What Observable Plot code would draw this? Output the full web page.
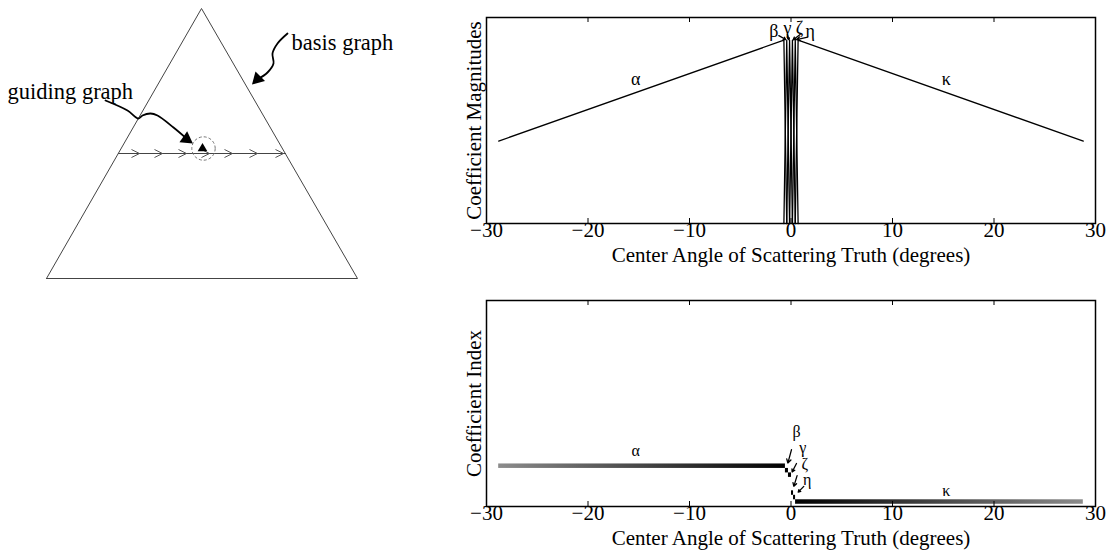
<!DOCTYPE html>
<html><head><meta charset="utf-8">
<script src="https://cdn.jsdelivr.net/npm/d3@7"></script>
<script src="https://cdn.jsdelivr.net/npm/@observablehq/plot@0.6"></script>
<style>
body{margin:0;background:#fff;}
#wrap{position:relative;width:1109px;height:556px;overflow:hidden;background:#fff;}
#wrap > svg{position:absolute;overflow:visible;}
</style></head><body><div id="wrap"></div>
<script>
const FONT = "'Liberation Serif','Times New Roman',serif";

// ---------------- left schematic (pixel-like units of the schematic) ----------------
const triangleX = [46, 201, 357, 46];
const triangleY = [278, 8, 278, 278];
const pathX = [118, 285];
const pathY = [153, 153];
const chevronX = [135, 158, 182, 205, 228, 253, 279];
const chevronY = [153, 153, 153, 153, 153, 153, 153];
const nodeX = [202], nodeY = [148];
const ringX = [203], ringY = [148];
const guideCurveX = [105, 127, 138, 142, 150, 157, 173, 186];
const guideCurveY = [100, 110, 118, 115, 113, 115, 127, 138];
const basisCurveX = [287, 277, 272, 273, 267, 257];
const basisCurveY = [33, 43, 53, 63, 72, 79];
const headX = [186, 257], headY = [138.5, 78.5], headAngle = [125, 225];
const schemLabels = ["guiding graph", "basis graph"];
const schemLabelX = [7, 291], schemLabelY = [91, 42];

// ---------------- right panels: data ----------------
const xTicks = [-30, -20, -10, 0, 10, 20, 30];
const innerTicks = [-20, -10, 0, 10, 20];
// coefficient magnitudes vs center angle (top panel)
const alphaAngle = [-28.8, -0.7, -0.42];
const alphaMag   = [0.40, 0.89, 0];
const betaAngle  = [-0.7, -0.42, -0.14];
const betaMag    = [0, 0.89, 0];
const gammaAngle = [-0.42, -0.14, 0.14];
const gammaMag   = [0, 0.89, 0];
const zetaAngle  = [-0.14, 0.14, 0.42];
const zetaMag    = [0, 0.89, 0];
const etaAngle   = [0.14, 0.42, 0.7];
const etaMag     = [0, 0.89, 0];
const kappaAngle = [0.42, 0.7, 28.8];
const kappaMag   = [0, 0.89, 0.40];
const topLabelText = ["α", "β", "γ", "ζ", "η", "κ"];
const topLabelX = [-15.3, -1.7, -0.34, 0.84, 1.9, 15.3];
const topLabelY = [0.70, 0.935, 0.95, 0.95, 0.935, 0.70];
const topArrowX1 = [-1.2, -0.36, 0.9, 1.65];
const topArrowY1 = [0.912, 0.918, 0.918, 0.905];
const topArrowX2 = [-0.52, -0.2, 0.22, 0.55];
const topArrowY2 = [0.893, 0.892, 0.892, 0.893];

// coefficient index vs center angle (bottom panel)
const coefNames = ["α", "β", "γ", "ζ", "η", "κ"];
const coefIndex = [9, 8, 7, 3, 2, 1];
const coefStart = [-28.8, -0.55, -0.25, 0.05, 0.25, 0.45];
const coefEnd   = [-0.55, -0.25, 0.05, 0.25, 0.45, 28.8];
const idxLabelX = [-15.3, 0.54, 1.15, 1.35, 1.6, 15.3];
const idxLabelY = [12.5, 16.6, 13.0, 9.5, 6.0, 3.4];
const idxArrowX1 = [0.05, 0.54, 0.6, 1.26];
const idxArrowY1 = [12.7, 9.6, 6.9, 4.5];
const idxArrowX2 = [-0.31, 0.11, 0.28, 0.71];
const idxArrowY2 = [9.7, 7.7, 4.5, 3.2];

const wrap = document.getElementById("wrap");
const place = (svg, left, top) => { svg.style.left = left + "px"; svg.style.top = top + "px"; wrap.appendChild(svg); return svg; };
const fmt = d => d < 0 ? "\u2212" + Math.abs(d) : String(d);

// ---------- schematic ----------
const zip = (xs, ys, extra = {}) => xs.map((x, i) => ({x, y: ys[i], ...Object.fromEntries(Object.entries(extra).map(([k, v]) => [k, v[i]]))}));
const chevron = {draw(ctx, size) { const r = Math.sqrt(size / Math.PI); ctx.moveTo(-r, -r); ctx.lineTo(r, 0); ctx.lineTo(-r, r); }};
const schem = Plot.plot({
  width: 440, height: 290, margin: 0,
  x: {domain: [0, 440], axis: null}, y: {domain: [0, 290], reverse: true, axis: null},
  style: {fontFamily: FONT, background: "transparent"},
  marks: [
    Plot.line(zip(triangleX, triangleY), {x: "x", y: "y", stroke: "#444", strokeWidth: 1}),
    Plot.line(zip(pathX, pathY), {x: "x", y: "y", stroke: "#444", strokeWidth: 1}),
    Plot.dot(zip(chevronX, chevronY), {x: "x", y: "y", symbol: chevron, r: 4, fill: "none", stroke: "#555", strokeWidth: 1}),
    Plot.dot(zip(ringX, ringY), {x: "x", y: "y", r: 11.7, fill: "none", stroke: "#777", strokeWidth: 1, strokeDasharray: "3,2"}),
    Plot.dot(zip(nodeX, nodeY), {x: "x", y: "y", symbol: "triangle", r: 3.6, fill: "black", stroke: "none"}),
    Plot.line(zip(guideCurveX, guideCurveY), {x: "x", y: "y", curve: "catmull-rom", stroke: "black", strokeWidth: 1.8}),
    Plot.line(zip(basisCurveX, basisCurveY), {x: "x", y: "y", curve: "catmull-rom", stroke: "black", strokeWidth: 1.8}),
    Plot.dot(zip(headX, headY, {a: headAngle}), {x: "x", y: "y", symbol: "triangle", r: 5, rotate: "a", fill: "black", stroke: "none"}),
    Plot.text(zip(schemLabelX, schemLabelY, {t: schemLabels}), {x: "x", y: "y", text: "t", textAnchor: "start", fontSize: 22.5, fill: "black"})
  ]
});
place(schem, 0, 0);

// ---------- common panel builder ----------
function panel({yDomain, marks, ylabel, height, marginBottom}) {
  return Plot.plot({
    width: 669, height, marginLeft: 46, marginRight: 14, marginTop: 17, marginBottom,
    x: {domain: [-30, 30], axis: null}, y: {domain: yDomain, axis: null},
    style: {fontFamily: FONT, fontSize: "21px", background: "transparent", color: "black"},
    marks: [
      ...marks,
      Plot.ruleX(innerTicks, {insetTop: 201, stroke: "black", strokeWidth: 1}),
      Plot.ruleX(innerTicks, {insetBottom: 201, stroke: "black", strokeWidth: 1}),
      Plot.frame({stroke: "black", strokeWidth: 1.5}),
      Plot.text(xTicks, {x: d => d, frameAnchor: "bottom", dy: 13, text: fmt, fontSize: 21, fill: "black"}),
      Plot.text(["Center Angle of Scattering Truth (degrees)"], {frameAnchor: "bottom", dy: 38, text: d => d, fontSize: 21, fill: "black"}),
      Plot.text([ylabel], {frameAnchor: "left", textAnchor: "middle", dx: -12, rotate: -90, text: d => d, fontSize: 21, fill: "black"})
    ]
  });
}

// ---------- top panel ----------
const magRows = [];
[["α", alphaAngle, alphaMag], ["β", betaAngle, betaMag], ["γ", gammaAngle, gammaMag],
 ["ζ", zetaAngle, zetaMag], ["η", etaAngle, etaMag], ["κ", kappaAngle, kappaMag]]
  .forEach(([c, xs, ys]) => xs.forEach((x, i) => magRows.push({coef: c, angle: x, mag: ys[i]})));

const topPanel = panel({
  yDomain: [0, 1], ylabel: "Coefficient Magnitudes", height: 283, marginBottom: 60,
  marks: [
    Plot.line(magRows, {x: "angle", y: "mag", z: "coef", stroke: "black", strokeWidth: 1.3}),
    Plot.text(topLabelText, {x: (d, i) => topLabelX[i], y: (d, i) => topLabelY[i], text: d => d, fontSize: 18, fill: "black"}),
    Plot.arrow(topArrowX1, {x1: (d, i) => topArrowX1[i], y1: (d, i) => topArrowY1[i], x2: (d, i) => topArrowX2[i], y2: (d, i) => topArrowY2[i], stroke: "black", strokeWidth: 1.3, headLength: 5, headAngle: 60})
  ]
});
place(topPanel, 440, 0);

// ---------- bottom panel ----------
const barRows = coefNames.map((c, i) => ({coef: c, x1: coefStart[i], x2: coefEnd[i], y1: coefIndex[i] - 0.5, y2: coefIndex[i] + 0.5}));
const botPanel = panel({
  yDomain: [0, 46], ylabel: "Coefficient Index", height: 273, marginBottom: 50,
  marks: [
    Plot.rect(barRows.filter(d => d.coef === "α"), {x1: "x1", x2: "x2", y1: "y1", y2: "y2", fill: "url(#gradAlpha)"}),
    Plot.rect(barRows.filter(d => d.coef === "κ"), {x1: "x1", x2: "x2", y1: "y1", y2: "y2", fill: "url(#gradKappa)"}),
    Plot.rect(barRows.filter(d => d.coef !== "α" && d.coef !== "κ"), {x1: "x1", x2: "x2", y1: "y1", y2: "y2", fill: "black"}),
    Plot.text(coefNames, {x: (d, i) => idxLabelX[i], y: (d, i) => idxLabelY[i], text: d => d, fontSize: 16, fill: "black"}),
    Plot.arrow(idxArrowX1, {x1: (d, i) => idxArrowX1[i], y1: (d, i) => idxArrowY1[i], x2: (d, i) => idxArrowX2[i], y2: (d, i) => idxArrowY2[i], stroke: "black", strokeWidth: 1.3, headLength: 5, headAngle: 60})
  ]
});
const defs = d3.select(botPanel).insert("defs", ":first-child");
const gA = defs.append("linearGradient").attr("id", "gradAlpha");
gA.append("stop").attr("offset", "0").attr("stop-color", "#8c8c8c");
gA.append("stop").attr("offset", "1").attr("stop-color", "#000");
const gK = defs.append("linearGradient").attr("id", "gradKappa");
gK.append("stop").attr("offset", "0").attr("stop-color", "#000");
gK.append("stop").attr("offset", "1").attr("stop-color", "#8c8c8c");
place(botPanel, 440, 283);
</script></body></html>
